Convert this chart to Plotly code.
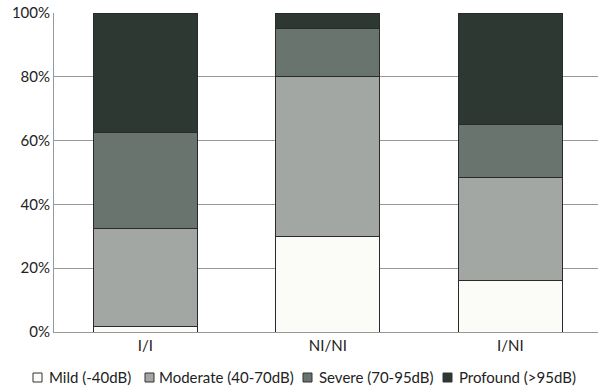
import plotly.graph_objects as go

categories = ["I/I", "NI/NI", "I/NI"]
series_names = ["Mild (-40dB)", "Moderate (40-70dB)", "Severe (70-95dB)", "Profound (>95dB)"]
mild = [1.6, 30.0, 16.1]
moderate = [30.7, 50.0, 32.3]
severe = [30.1, 15.0, 16.8]
profound = [37.6, 5.0, 34.8]
tick_vals = [0, 20, 40, 60, 80, 100]
tick_text = ["0%", "20%", "40%", "60%", "80%", "100%"]

colors = ["#fbfbf8", "#a2a7a4", "#69746e", "#2d3833"]
W, H = 598, 388
ML, MR, MT, MB = 54, 0, 13, 56

fig = go.Figure()
for name, vals, col in zip(series_names, [mild, moderate, severe, profound], colors):
    fig.add_trace(go.Bar(
        x=categories, y=vals, name=name,
        marker=dict(color=col, line=dict(color="#2a2a2a", width=1)),
    ))

# custom legend (symbol squares + text) below the plot, in paper coordinates
pw = W - ML - MR
ph = H - MT - MB
def px_x(x):
    return (x - ML) / pw
def px_y(y):
    return (H - MB - y) / ph

legend_sym_x = [33, 145, 303, 443]
legend_txt_x = [47, 157, 317, 457]
legend_y = 377
shapes = []
annotations = []
for name, col, sx, tx in zip(series_names, colors, legend_sym_x, legend_txt_x):
    shapes.append(dict(type="rect", xref="paper", yref="paper",
                       x0=px_x(sx), x1=px_x(sx + 9), y0=px_y(legend_y - 4), y1=px_y(legend_y + 5),
                       fillcolor=col, line=dict(color="#333", width=1)))
    annotations.append(dict(text=name, xref="paper", yref="paper",
                            x=px_x(tx), y=px_y(legend_y), xanchor="left", yanchor="middle",
                            showarrow=False, font=dict(size=15, color="#222")))

fig.update_layout(
    barmode="stack",
    bargap=0.43,
    width=W, height=H,
    margin=dict(l=ML, r=MR, t=MT, b=MB, autoexpand=False),
    paper_bgcolor="white", plot_bgcolor="white",
    font=dict(family="Lato, Open Sans, sans-serif", size=15, color="#222"),
    showlegend=False,
    shapes=shapes,
    annotations=annotations,
)
fig.update_xaxes(range=[-0.5, 2.48], showline=True, linecolor="#999", linewidth=1,
                 ticks="", showgrid=False, tickfont=dict(size=15), automargin=False)
fig.update_yaxes(range=[0, 100], tickvals=tick_vals, ticktext=tick_text,
                 showgrid=True, gridcolor="#999999", gridwidth=1,
                 showline=True, linecolor="#999", linewidth=1,
                 ticks="", tickfont=dict(size=15), zeroline=False, automargin=False)

fig.write_html("out.html", config={"displayModeBar": False},
               post_script="document.body.style.margin='0';")
